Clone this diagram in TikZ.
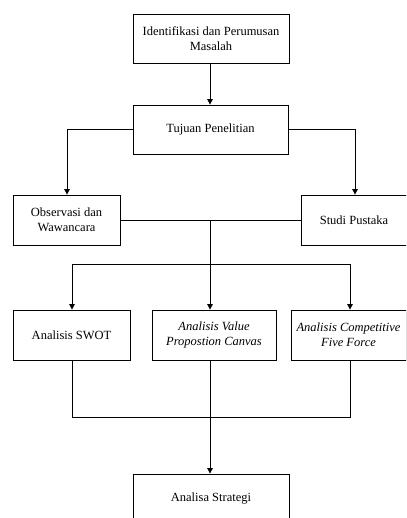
\documentclass[tikz,border=0pt]{standalone}
\usepackage{fontspec}
\setmainfont{Liberation Serif}
\usetikzlibrary{arrows.meta}
\begin{document}
\begin{tikzpicture}[x=1pt,y=-1pt,
  box/.style={draw,line width=0.8pt,align=center,font=\fontsize{12.5}{15}\selectfont,inner sep=0pt},
  conn/.style={line width=0.8pt},
  arr/.style={conn,-{Triangle[width=5.5pt,length=5.5pt]}}]
\useasboundingbox (0,0) rectangle (406,518);
\clip (0,0) rectangle (406,518);
\node[box,minimum width=156pt,minimum height=49pt] (idf) at (211,38.5) {Identifikasi dan Perumusan\\Masalah};
\node[box,minimum width=155pt,minimum height=49pt] (tuj) at (210.5,129.5) {Tujuan Penelitian};
\node[box,minimum width=107pt,minimum height=50pt] (obs) at (66.5,220) {Observasi dan\\Wawancara};
\node[box,minimum width=106pt,minimum height=50pt] (stu) at (354,220) {Studi Pustaka};
\node[box,minimum width=117pt,minimum height=50pt] (swot) at (71.5,335) {Analisis SWOT};
\node[box,minimum width=124pt,minimum height=50pt] (vpc) at (214,335) {\itshape Analisis Value\\\itshape Propostion Canvas};
\node[box,minimum width=115pt,minimum height=50pt] (cfm) at (348.5,335) {\itshape Analisis Competitive\\\itshape Five Force};
\node[box,minimum width=156pt,minimum height=50pt] (ana) at (211,499) {Analisa Strategi};
\coordinate (j1) at (210,220);
\coordinate (j2) at (210,264);
\coordinate (j3) at (210,417);
\draw[arr] (idf.south -| 210,0) -- (tuj.north -| 210,0);
\draw[arr] (tuj.west) -| (obs.north -| 67,0);
\draw[arr] (tuj.east) -| (stu.north -| 355,0);
\draw[conn] (obs.east) -- (stu.west);
\draw[conn] (j1) -- (j2);
\draw[arr] (j2) -| (swot.north -| 72,0);
\draw[arr] (j2) -| (cfm.north -| 350,0);
\draw[arr] (j2) -- (vpc.north -| 210,0);
\draw[conn] (swot.south -| 72,0) |- (j3);
\draw[conn] (cfm.south -| 350,0) |- (j3);
\draw[conn] (vpc.south -| 210,0) -- (j3);
\draw[arr] (j3) -- (ana.north -| 210,0);
\end{tikzpicture}
\end{document}
